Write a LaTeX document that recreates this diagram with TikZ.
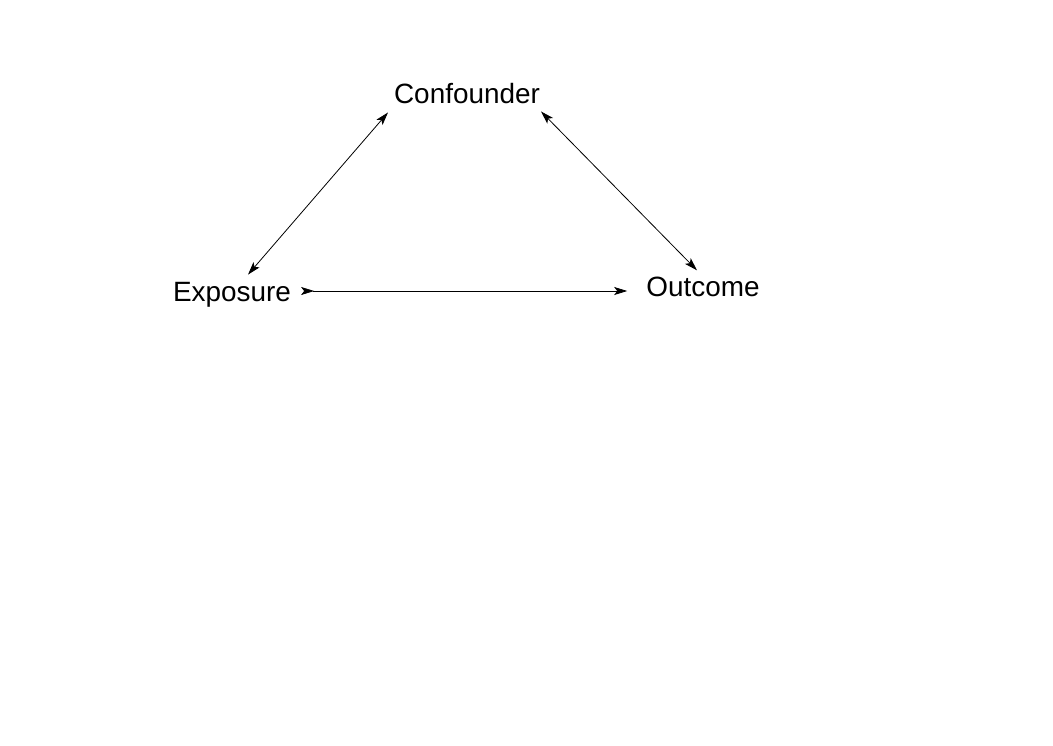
\documentclass[tikz,border=0pt]{standalone}
\usepackage{fontspec}
\setmainfont{Liberation Sans}
\usetikzlibrary{arrows.meta}
\begin{document}
\begin{tikzpicture}[x=1pt,y=-1pt,
  lbl/.style={inner sep=0pt,font=\fontsize{27.9}{30}\selectfont,anchor=base},
  conn/.style={line width=0.8pt}]
\useasboundingbox[fill=white] (0,0) rectangle (1053,745);
\node[lbl] (ex) at (232,301) {Exposure};
\node[lbl] (out) at (703,296) {Outcome};
\node[lbl] (conf) at (467,103) {Confounder};
\draw[conn,{Stealth[length=13pt,width=8pt,inset=3pt]}-{Stealth[length=13pt,width=8pt,inset=3pt]}]
  ([shift={(16,-7)}]ex.north) -- ([shift={(-79,9)}]conf.south);
\draw[conn,{Stealth[length=13pt,width=8pt,inset=3pt]}-{Stealth[length=13pt,width=8pt,inset=3pt]}]
  ([shift={(74,8)}]conf.south) -- ([shift={(-6,-6)}]out.north);
\draw[conn,{Stealth[length=13pt,width=8pt,inset=3pt,reversed]}-{Stealth[length=13pt,width=8pt,inset=3pt]}]
  ([shift={(10,-10)}]ex.base east) -- ([shift={(-19,-5)}]out.base west);
\end{tikzpicture}
\end{document}
